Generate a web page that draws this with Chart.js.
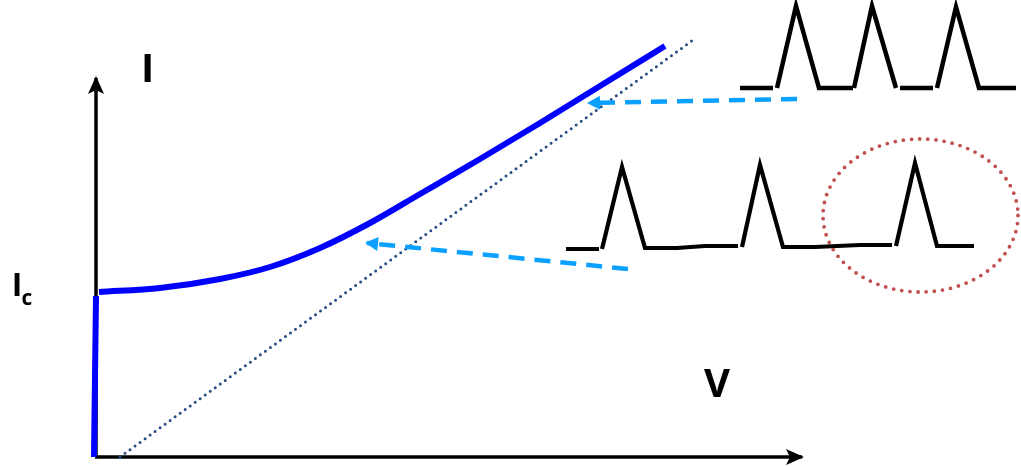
<!DOCTYPE html>
<html>
<head>
<meta charset="utf-8">
<title>I-V characteristic</title>
<script src="https://cdn.jsdelivr.net/npm/chart.js@4.4.1/dist/chart.umd.min.js"></script>
<style>
  html, body { margin: 0; padding: 0; background: #fff; }
  #wrap { width: 1021px; height: 466px; position: relative; }
</style>
</head>
<body>
<div id="wrap"><canvas id="ivChart"></canvas></div>
<script>
// V runs along x, I along y, origin at the corner of the axes (arbitrary units)
var vAxisLine = [[0, 0], [707, 0]];
var iAxisLine = [[1, 0], [1, 379]];

// zero-voltage branch up to Ic, then the resistive branch
var zeroVoltageBranch = [[-1, 0], [1, 161]];
var ivCurve = [[4, 165], [65, 169], [125, 178], [175, 190], [225, 209], [275, 234],
    [325, 263], [385, 298], [445, 334], [505, 371], [570, 411]];

// ohmic asymptote
var ohmicLine = [[25, 0], [598, 417]];

// dashed pointers from each voltage trace to its bias point
var highBiasPointer = [[702, 358], [494, 354]];
var lowBiasPointer = [[533, 188], [272, 214]];

// voltage traces: frequent pulses at high bias, sparse pulses just above Ic
var denseTrace = [
    [[645, 369], [678, 369]],
    [[682, 369], [701, 451], [724, 369], [758, 369]],
    [[759, 369], [777, 451], [801, 369]],
    [[805, 369], [838, 369]],
    [[842, 369], [861, 450], [884, 369], [921, 369]]
];
var sparseTrace = [
    [[471, 208], [504, 208]],
    [[507, 208], [527, 290], [550, 209], [582, 209], [610, 211], [643, 211]],
    [[647, 210], [665, 292], [688, 210], [720, 210], [765, 212], [797, 212]],
    [[801, 211], [820, 294], [842, 211], [879, 211]]
];

// ring around a single pulse
var ringCenter = [825.5, 241.5];
var ringRadii = [97.5, 76.5];

// axis captions
var iLabel = 'I';
var vLabel = 'V';
var critLabel = ['I', 'c'];

var COLORS = {
    axis: '#000000',
    curve: '#0000ff',
    ohmic: '#264d84',
    pointer: '#0aa0ff',
    trace: '#000000',
    ring: '#c0504d'
};

function toXY(pts) {
    return pts.map(function (p) { return { x: p[0], y: p[1] }; });
}

function lineSet(pts, color, width, extra) {
    var ds = {
        data: toXY(pts),
        showLine: true,
        borderColor: color,
        backgroundColor: color,
        borderWidth: width,
        pointRadius: 0,
        fill: false,
        tension: 0
    };
    return Object.assign(ds, extra || {});
}

var datasets = [];
// axes at the bottom of the stack
datasets.push(lineSet(vAxisLine, COLORS.axis, 3.5, { arrowHead: [16, 8, 0.75], order: 9 }));
datasets.push(lineSet(iAxisLine, COLORS.axis, 3.5, { arrowHead: [16, 8, 0.75], order: 9 }));
datasets.push(lineSet(ohmicLine, COLORS.ohmic, 3, { borderDash: [0, 6.2], borderCapStyle: 'round', order: 8 }));
datasets.push(lineSet(zeroVoltageBranch, COLORS.curve, 6, { order: 5 }));
datasets.push(lineSet(ivCurve, COLORS.curve, 6, { cubicInterpolationMode: 'monotone', order: 5 }));
datasets.push(lineSet(highBiasPointer, COLORS.pointer, 4.5, { borderDash: [16, 10], arrowHead: [11, 7, 1], order: 4 }));
datasets.push(lineSet(lowBiasPointer, COLORS.pointer, 4.5, { borderDash: [16, 10], arrowHead: [11, 7, 1], order: 4 }));
denseTrace.forEach(function (seg) {
    datasets.push(lineSet(seg, COLORS.trace, 4.5, { borderJoinStyle: 'miter', order: 3 }));
});
sparseTrace.forEach(function (seg) {
    datasets.push(lineSet(seg, COLORS.trace, 4.2, { borderJoinStyle: 'miter', order: 3 }));
});

// filled arrowheads at the last point of any dataset carrying arrowHead: [length, halfWidth, baseDepth]
var arrowHeads = {
    id: 'arrowHeads',
    afterDatasetsDraw: function (chart) {
        var ctx = chart.ctx;
        chart.data.datasets.forEach(function (ds, i) {
            if (!ds.arrowHead) return;
            var pts = chart.getDatasetMeta(i).data;
            var tip = pts[pts.length - 1];
            var prev = pts[pts.length - 2];
            var ang = Math.atan2(tip.y - prev.y, tip.x - prev.x);
            var len = ds.arrowHead[0];
            var half = ds.arrowHead[1];
            ctx.save();
            ctx.translate(tip.x, tip.y);
            ctx.rotate(ang);
            ctx.fillStyle = ds.borderColor;
            ctx.beginPath();
            ctx.moveTo(2, 0);
            ctx.lineTo(-len, -half);
            ctx.lineTo(-len * ds.arrowHead[2], 0);
            ctx.lineTo(-len, half);
            ctx.closePath();
            ctx.fill();
            ctx.restore();
        });
    }
};

// dotted ellipse, placed through the scales
var pulseRing = {
    id: 'pulseRing',
    afterDatasetsDraw: function (chart) {
        var ctx = chart.ctx;
        var xs = chart.scales.x, ys = chart.scales.y;
        var cx = xs.getPixelForValue(ringCenter[0]);
        var cy = ys.getPixelForValue(ringCenter[1]);
        var rx = Math.abs(xs.getPixelForValue(ringCenter[0] + ringRadii[0]) - cx);
        var ry = Math.abs(ys.getPixelForValue(ringCenter[1] + ringRadii[1]) - cy);
        ctx.save();
        ctx.strokeStyle = COLORS.ring;
        ctx.lineWidth = 3.8;
        ctx.lineCap = 'round';
        ctx.setLineDash([0, 8.2]);
        ctx.beginPath();
        ctx.ellipse(cx, cy, rx, ry, 0, 0, Math.PI * 2);
        ctx.stroke();
        ctx.restore();
    }
};

// axis captions, anchored in data units
var captions = {
    id: 'captions',
    afterDraw: function (chart) {
        var ctx = chart.ctx;
        var xs = chart.scales.x, ys = chart.scales.y;
        ctx.save();
        ctx.fillStyle = '#000';
        ctx.textBaseline = 'alphabetic';
        ctx.textAlign = 'center';
        ctx.font = "bold 40px 'Open Sans', sans-serif";
        ctx.fillText(iLabel, xs.getPixelForValue(52.5), ys.getPixelForValue(375));
        ctx.fillText(vLabel, xs.getPixelForValue(622), ys.getPixelForValue(60));
        ctx.font = "bold 32px 'Open Sans', sans-serif";
        ctx.fillText(critLabel[0], xs.getPixelForValue(-78), ys.getPixelForValue(161));
        ctx.font = "bold 21px 'Open Sans', sans-serif";
        ctx.fillText(critLabel[1], xs.getPixelForValue(-68), ys.getPixelForValue(152));
        ctx.restore();
    }
};

new Chart(document.getElementById('ivChart').getContext('2d'), {
    type: 'scatter',
    data: { datasets: datasets },
    options: {
        responsive: true,
        maintainAspectRatio: false,
        animation: false,
        events: [],
        clip: false,
        layout: { padding: 0 },
        plugins: {
            legend: { display: false },
            tooltip: { enabled: false }
        },
        scales: {
            x: { type: 'linear', min: -95, max: 926, display: false },
            y: { type: 'linear', min: -9, max: 457, display: false }
        }
    },
    plugins: [arrowHeads, pulseRing, captions]
});
</script>
</body>
</html>
